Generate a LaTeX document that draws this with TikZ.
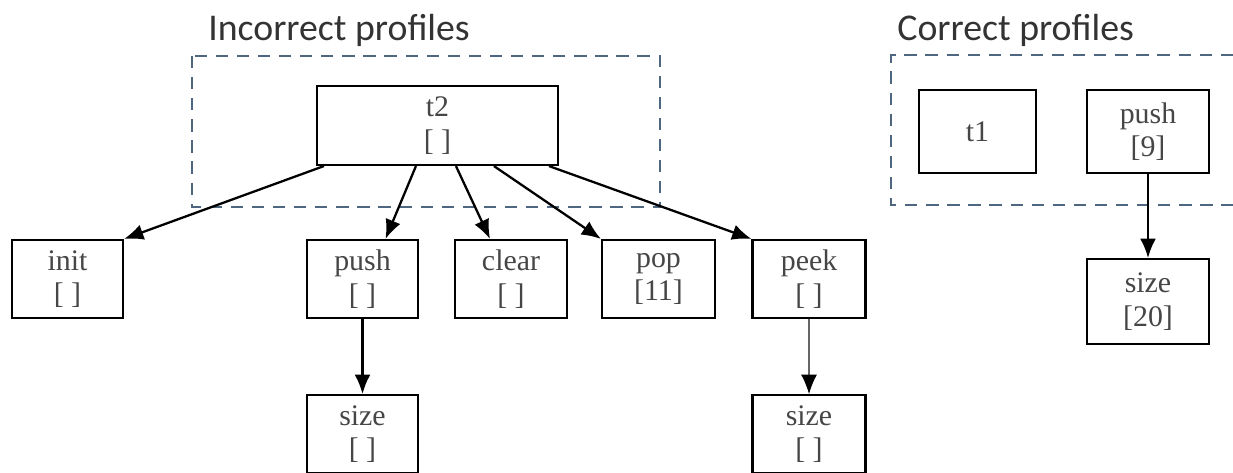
\documentclass[tikz,border=0pt]{standalone}
\usepackage{fontspec}
\setmainfont{Liberation Serif}
\newfontfamily\titlefont{Carlito}
\usepackage{xcolor}
\usetikzlibrary{arrows.meta,positioning}
\definecolor{frameblue}{RGB}{78,102,128}
\definecolor{boxtext}{RGB}{70,70,70}

\begin{document}
\begin{tikzpicture}[node distance=1.5cm,>={Latex[length=11pt,width=9pt]}]
\tikzstyle{box}=[rectangle,draw=black,line width=1.2pt,align=center,text=boxtext,font=\fontsize{17}{19}\selectfont,minimum width=2.22cm,minimum height=1.56cm,inner sep=2pt]
\tikzstyle{frame}=[draw=frameblue,line width=1.5pt,dash pattern=on 7pt off 5pt]
\tikzstyle{title}=[anchor=base west,inner sep=0pt,font=\titlefont\fontsize{21.5}{24}\selectfont,text=black!80]
\tikzstyle{edge}=[->,line width=1.3pt]
\useasboundingbox (0,0) rectangle (24.66,-9.44);

\node[title] (wrongtitle) at (4.16,-0.80) {Incorrect profiles};
\node[title] (righttitle) at (17.94,-0.80) {Correct profiles};
\draw[frame] (3.84,-1.12) rectangle (13.2,-4.14);
\draw[frame] (24.66,-1.10) -| (17.82,-4.10) -- (24.66,-4.10);

\node[box,minimum width=4.82cm,minimum height=1.58cm] (t2) at (8.75,-2.51) {t2\\{[ ]}};
\node[box] (init) at (1.35,-5.58) {init\\{[ ]}};
\node[box] (push) at (7.25,-5.58) {push\\{[ ]}};
\node[box,minimum width=2.24cm] (clear) at (10.22,-5.58) {clear\\{[ ]}};
\node[box,minimum width=2.26cm] (pop) at (13.17,-5.58) {pop\\{[11]}};
\node[box,minimum width=2.26cm] (peek) at (16.18,-5.58) {peek\\{[ ]}};
\node[box,below=of push] (pushsize) {size\\{[ ]}};
\node[box,below=of peek,minimum width=2.26cm] (peeksize) {size\\{[ ]}};

\node[box,minimum width=2.34cm,minimum height=1.66cm] (t1) at (19.55,-2.63) {t1};
\node[box,minimum width=2.44cm,minimum height=1.66cm] (push9) at (22.96,-2.63) {push\\{[9]}};
\node[box,below=1.68cm of push9,minimum width=2.44cm,minimum height=1.7cm] (size20) {size\\{[20]}};

\draw[edge] ([xshift=0.16cm]t2.south west) -- (init.north east);
\draw[edge] ([xshift=2.0cm]t2.south west) -- ([xshift=0.46cm]push.north);
\draw[edge] ([xshift=2.8cm]t2.south west) -- ([xshift=-0.42cm]clear.north);
\draw[edge] ([xshift=3.56cm]t2.south west) -- (pop.north west);
\draw[edge] ([xshift=4.66cm]t2.south west) -- (peek.north west);
\draw[edge] (push) -- (pushsize);
\draw[-{Latex[length=11pt,width=9pt,color=black]},line width=0.7pt,draw=black!60] (peek) -- (peeksize);
\draw[edge] (push9) -- (size20);
\end{tikzpicture}
\end{document}
